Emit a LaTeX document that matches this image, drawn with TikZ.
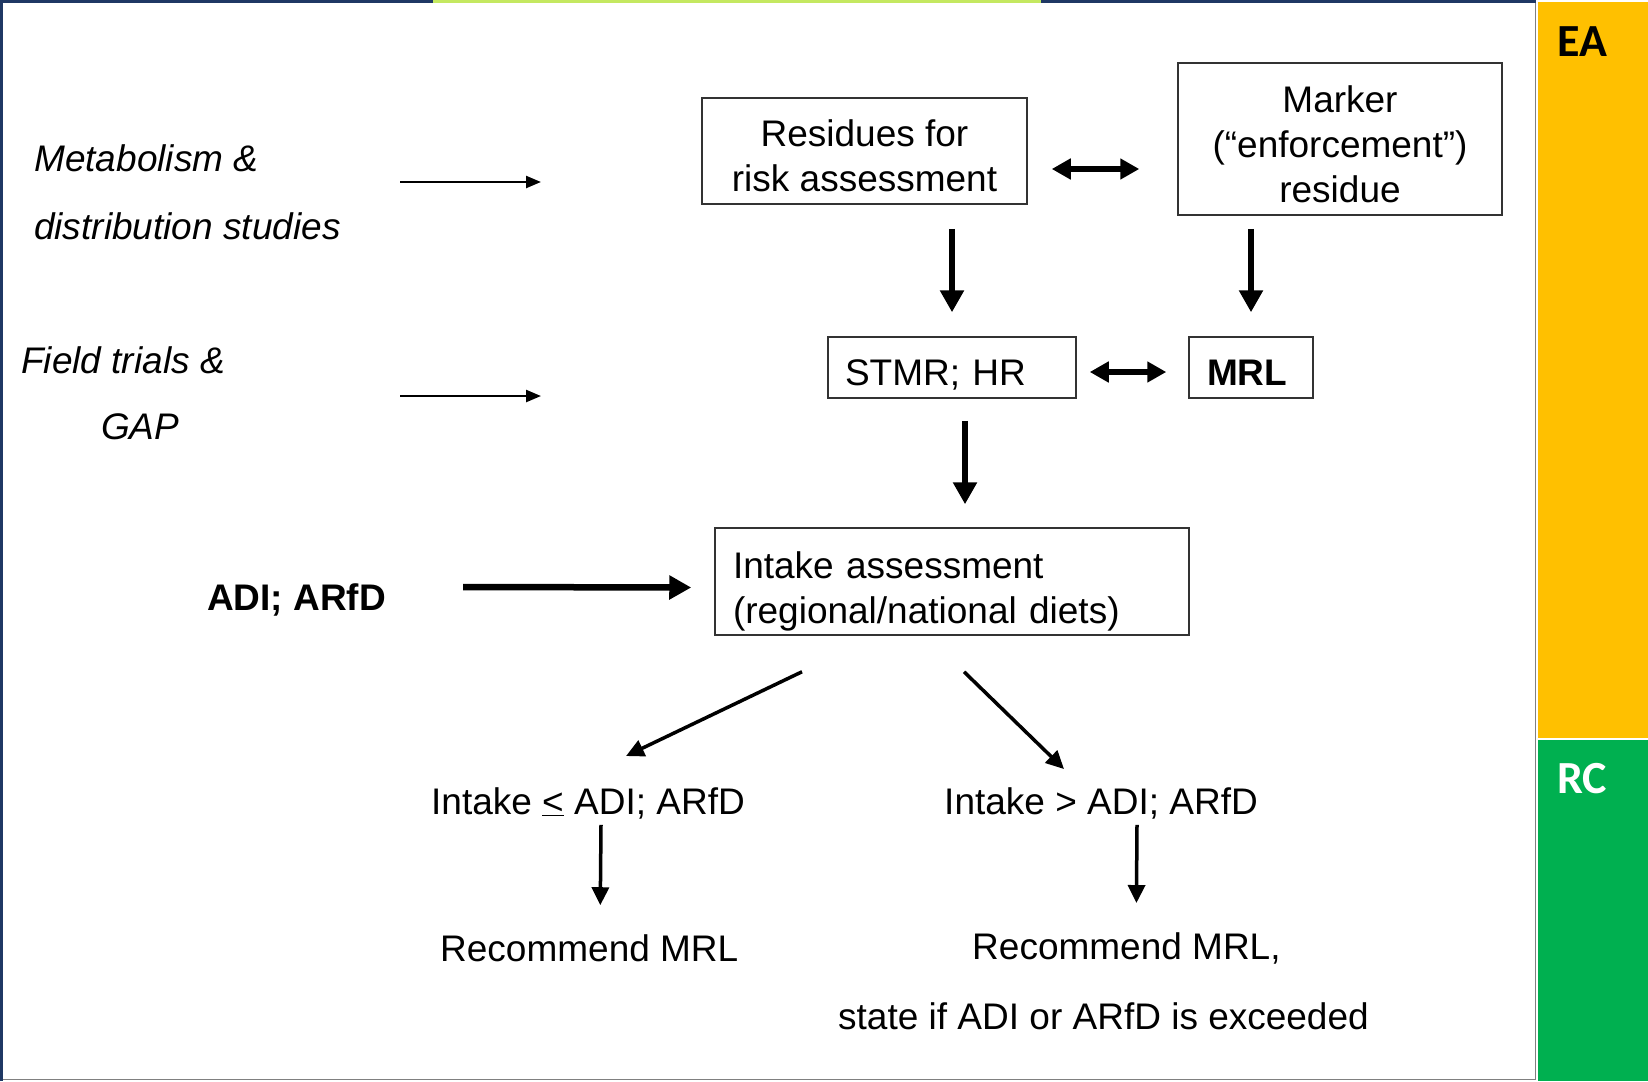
\documentclass[tikz,border=0pt]{standalone}
\usepackage{fontspec}
\setmainfont{Liberation Sans}
\newfontfamily\calibrifont{Carlito}
\usetikzlibrary{arrows.meta,calc}

\definecolor{framenavy}{RGB}{31,56,100}
\definecolor{framegray}{RGB}{128,128,128}
\definecolor{toplime}{RGB}{196,232,96}
\definecolor{eaorange}{RGB}{255,192,0}
\definecolor{rcgreen}{RGB}{0,176,80}

% invisible strut that pushes the box text down
\newcommand{\topstrut}[1]{\rule{0pt}{#1pt}}

\begin{document}
\begin{tikzpicture}[x=1pt,y=1pt,yscale=-1,xscale=1,
  bodyfont/.style={font=\fontsize{37}{45}\selectfont},
  box/.style={bodyfont,draw=black!80,line width=1.5pt,inner sep=0pt,align=center},
  leftbox/.style={box,align=left,inner xsep=#1,inner ysep=0pt},
  plaintext/.style={bodyfont,inner sep=0pt,anchor=west},
  sidelabel/.style={inner sep=0pt,anchor=west,font=\calibrifont\fontsize{46}{50}\selectfont\bfseries},
  thinarrow/.style={line width=2.4pt,-{Triangle[length=15pt,width=12pt]}},
  bigarrow/.style={line width=6.5pt,-{Triangle[length=22pt,width=23pt]}},
  dblarrow/.style={line width=6pt,{Triangle[length=19pt,width=20pt]}-{Triangle[length=19pt,width=20pt]}},
  midarrow/.style={line width=3.5pt,-{Triangle[length=18pt,width=17pt]}}]
\useasboundingbox (0,0) rectangle (1648,1081);

%Shape: Frame
\draw [framegray,line width=1.5pt] (1535.5,0) -- (1535.5,1079.5) -- (0,1079.5) ;
\draw [framenavy,line width=3pt] (1.5,1081) -- (1.5,1.5) -- (1536,1.5) ;
\fill [toplime] (433,0) rectangle (1041,3) ;

%Shape: Side panels
\fill [eaorange] (1538,2.5) rectangle (1648,737.5) ;
\fill [rcgreen] (1538,739.5) rectangle (1648,1081) ;
\node (ea) at (1557,42) [sidelabel] {EA};
\node (rc) at (1557,779) [sidelabel,text=white] {RC};

% Boxes
\node (res) at (864.5,151) [box,minimum width=325,minimum height=106] {\topstrut{36.5}Residues for\\risk assessment};
\node (marker) at (1340,139) [box,minimum width=324,minimum height=152] {\topstrut{37}Marker\\(“enforcement”)\\residue};
\node (stmr) at (952,367.5) [leftbox=17,text width=214,text height=35,text depth=0,minimum height=61] {STMR; HR};
\node (mrl) at (1251,367.5) [leftbox=18,text width=88,text height=35,text depth=0,minimum height=61,font=\fontsize{37}{45}\selectfont\bfseries] {MRL};
\node (intake) at (952,581.5) [leftbox=18,text width=438,minimum height=107] {\topstrut{47}Intake assessment\\(regional/national diets)};

% Text Node
\node (meta) at (34,192) [plaintext,align=left,font=\fontsize{37}{68}\selectfont\itshape] {Metabolism \&\\distribution studies};
% Text Node
\node (field) at (21,360) [plaintext,font=\fontsize{37}{45}\selectfont\itshape] {Field trials \&};
% Text Node
\node (gap) at (101,427) [plaintext,font=\fontsize{37}{45}\selectfont\itshape] {GAP};
% Text Node
\node (adi) at (207,600) [plaintext,font=\fontsize{37}{45}\selectfont\bfseries] {ADI; ARfD};
% Text Node
\node (le) at (431,803) [plaintext] {Intake \underline{<} ADI; ARfD};
% Text Node
\node (gt) at (944,803) [plaintext] {Intake > ADI; ARfD};
% Text Node
\node (recA) at (440,948) [plaintext] {Recommend MRL};
% Text Node
\node (recB) at (972,948) [plaintext] {Recommend MRL,};
% Text Node
\node (state) at (838,1016) [plaintext] {state if ADI or ARfD is exceeded};

% Free ends of the input arrows
\coordinate (metaA) at (400,182);
\coordinate (metaB) at (541,182);
\coordinate (fieldA) at (400,396);
\coordinate (fieldB) at (541,396);

% Arrows
\draw [thinarrow] (metaA) -- (metaB) ;
\draw [thinarrow] (fieldA) -- (fieldB) ;
\draw [dblarrow] ($(res.east)+(24,18)$) -- ($(marker.west)+(-38,30)$) ;
\draw [bigarrow] ($(res.south -| stmr.north)+(0,24)$) -- ($(stmr.north)+(0,-24)$) ;
\draw [bigarrow] ($(marker.south -| mrl.north)+(0,13)$) -- ($(mrl.north)+(0,-24)$) ;
\draw [dblarrow] ($(stmr.east)+(13,4.5)$) -- ($(mrl.west)+(-22,4.5)$) ;
\draw [bigarrow] ($(stmr.south)+(13,22)$) -- ($(intake.north)+(13,-23)$) ;
\draw [bigarrow] ($(adi.east)+(77,-13)$) -- ($(intake.west)+(-23,6)$) ;
\draw [midarrow] ($(intake.south)+(-150,36)$) -- ($(le.north)+(38,-31)$) ;
\draw [midarrow] ($(intake.south)+(12,36)$) -- ($(gt.north)+(-37,-18)$) ;
\draw [midarrow] ($(le.south)+(13,6)$) -- ($(recA.north)+(11,-29)$) ;
\draw [midarrow] ($(gt.south)+(36,6)$) -- ($(recB.north)+(10,-29)$) ;

\end{tikzpicture}
\end{document}
